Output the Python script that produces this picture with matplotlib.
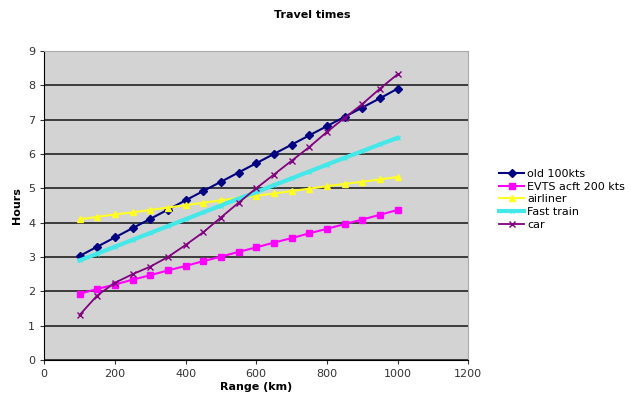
import numpy as np
import matplotlib.pyplot as plt

# Range (km)
ranges = [100, 150, 200, 250, 300, 350, 400, 450, 500, 550,
          600, 650, 700, 750, 800, 850, 900, 950, 1000]

old_100kts = [3.03, 3.30, 3.57, 3.84, 4.11, 4.38, 4.65, 4.92, 5.19, 5.46,
              5.73, 6.00, 6.27, 6.54, 6.81, 7.08, 7.35, 7.62, 7.90]
evts_200kts = [1.93, 2.07, 2.20, 2.34, 2.47, 2.61, 2.74, 2.88, 3.01, 3.15,
               3.28, 3.42, 3.55, 3.69, 3.82, 3.96, 4.09, 4.23, 4.37]
airliner = [4.10, 4.17, 4.24, 4.30, 4.37, 4.44, 4.51, 4.58, 4.65, 4.72,
            4.78, 4.85, 4.92, 4.99, 5.06, 5.13, 5.19, 5.26, 5.33]
fast_train = [2.90, 3.10, 3.30, 3.50, 3.70, 3.90, 4.10, 4.30, 4.50, 4.70,
              4.89, 5.09, 5.29, 5.49, 5.69, 5.89, 6.08, 6.28, 6.47]
car = [1.31, 1.88, 2.25, 2.50, 2.72, 3.00, 3.35, 3.72, 4.15, 4.58,
       5.00, 5.40, 5.80, 6.20, 6.64, 7.05, 7.45, 7.90, 8.32]

fig = plt.figure(figsize=(6.31, 4.01), dpi=100)
ax = fig.add_axes([0.07, 0.102, 0.672, 0.771])
ax.set_facecolor('#d3d3d3')

ax.plot(ranges, old_100kts, color='#000080', marker='D', markersize=4, lw=1.5, label='old 100kts')
ax.plot(ranges, evts_200kts, color='#ff00ff', marker='s', markersize=5, lw=1.5, label='EVTS acft 200 kts')
ax.plot(ranges, airliner, color='#ffff22', marker='^', markersize=5, lw=1.5, label='airliner')
ax.plot(ranges, fast_train, color='#44e8e8', marker='x', markersize=3, lw=3, label='Fast train')
ax.plot(ranges, car, color='#800080', marker='x', markersize=4, lw=1.3, label='car')

ax.set_xlim(0, 1200)
ax.set_ylim(0, 9)
ax.set_xticks(range(0, 1201, 200))
ax.set_yticks(range(0, 10))
ax.yaxis.grid(True, color='#222222', lw=1.2)
ax.set_axisbelow(True)
for s in ['top', 'right']:
    ax.spines[s].set_color('#aaaaaa')
ax.tick_params(labelsize=8, length=3, colors='#333333')

fig.text(0.495, 0.962, 'Travel times', fontsize=8, fontweight='bold', ha='center', va='center')
ax.set_xlabel('Range (km)', fontsize=8, fontweight='bold', labelpad=2)
ax.set_ylabel('Hours', fontsize=8, fontweight='bold', labelpad=4)

ax.legend(loc='center left', bbox_to_anchor=(1.05, 0.52), frameon=False,
          fontsize=8, handlelength=2.2, handletextpad=0.3, labelspacing=0.25)

fig.savefig('out.png', dpi=100)
